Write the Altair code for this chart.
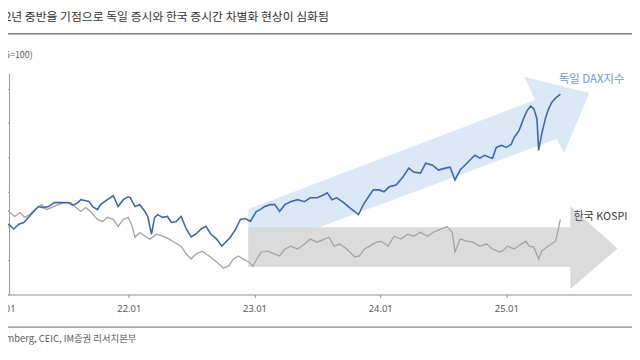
import altair as alt
import pandas as pd

TITLE = "2022년 중반을 기점으로 독일 증시와 한국 증시간 차별화 현상이 심화됨"
UNIT = "(2021.01.05=100)"
SOURCE = "자료: Bloomberg, CEIC, IM증권 리서치본부"
DAX_LABEL = "독일 DAX지수"
KOSPI_LABEL = "한국 KOSPI"

dax_dates = [
    "2021-01-05", "2021-01-18", "2021-02-01", "2021-02-16", "2021-03-02", "2021-03-16",
    "2021-03-31", "2021-04-14", "2021-04-28", "2021-05-13", "2021-05-30", "2021-06-19",
    "2021-07-09", "2021-07-23", "2021-08-06", "2021-08-15", "2021-08-29", "2021-09-07",
    "2021-09-18", "2021-10-02", "2021-10-11", "2021-10-31", "2021-11-17", "2021-12-01",
    "2021-12-16", "2021-12-30", "2022-01-05", "2022-01-19", "2022-02-02", "2022-02-17",
    "2022-02-25", "2022-03-08", "2022-03-17", "2022-03-26", "2022-04-09", "2022-04-23",
    "2022-05-05", "2022-05-19", "2022-06-02", "2022-06-17", "2022-07-01", "2022-07-15",
    "2022-07-30", "2022-08-13", "2022-08-27", "2022-09-13", "2022-09-28", "2022-10-09",
    "2022-10-23", "2022-11-07", "2022-11-21", "2022-12-05", "2022-12-20", "2023-01-06",
    "2023-01-17", "2023-01-31", "2023-02-15", "2023-03-01", "2023-03-15", "2023-03-30",
    "2023-04-16", "2023-05-06", "2023-05-26", "2023-06-12", "2023-07-02", "2023-07-22",
    "2023-07-31", "2023-08-14", "2023-08-28", "2023-09-17", "2023-10-04", "2023-10-19",
    "2023-10-30", "2023-11-13", "2023-11-28", "2023-12-12", "2023-12-29", "2024-01-12",
    "2024-01-27", "2024-02-16", "2024-03-07", "2024-03-24", "2024-04-07", "2024-04-27",
    "2024-05-12", "2024-06-01", "2024-06-18", "2024-07-08", "2024-07-22", "2024-08-05",
    "2024-08-20", "2024-09-03", "2024-09-17", "2024-10-02", "2024-10-16", "2024-10-30",
    "2024-11-13", "2024-11-22", "2024-12-03", "2024-12-18", "2025-01-01", "2025-01-15",
    "2025-01-24", "2025-02-07", "2025-02-21", "2025-03-02", "2025-03-13", "2025-03-22",
    "2025-03-31", "2025-04-05", "2025-04-14", "2025-04-25", "2025-05-04", "2025-05-12",
    "2025-05-24", "2025-06-01", "2025-06-07",
]
dax_values = [
    100.0, 100.9, 98.2, 101.0, 102.0, 105.0,
    108.4, 111.3, 110.7, 111.3, 113.6, 113.6,
    113.6, 112.0, 113.6, 115.3, 114.7, 114.3,
    111.3, 109.5, 112.4, 115.3, 117.6, 111.3,
    115.3, 117.0, 116.5, 111.3, 112.4, 108.4,
    105.5, 95.2, 105.0, 106.6, 105.0, 105.5,
    102.0, 102.6, 105.5, 98.2, 93.6, 95.3,
    98.2, 99.8, 95.3, 92.3, 88.2, 90.5,
    93.4, 98.0, 103.8, 104.3, 102.6, 108.4,
    109.5, 111.3, 112.4, 112.4, 108.4, 112.4,
    114.1, 115.3, 114.1, 116.4, 116.4, 118.2,
    119.3, 115.3, 116.4, 113.6, 110.7, 108.4,
    106.6, 112.4, 117.0, 121.0, 121.0, 119.9,
    122.8, 123.9, 128.5, 133.7, 131.4, 130.8,
    136.6, 135.4, 132.6, 133.7, 134.3, 126.8,
    132.6, 135.4, 138.3, 141.2, 139.5, 141.2,
    140.0, 139.5, 145.8, 147.0, 145.8, 147.5,
    151.6, 155.6, 163.0, 167.1, 170.0, 168.3,
    162.5, 144.0, 153.8, 163.0, 168.3, 171.7,
    174.6, 175.8, 176.9,
]

kospi_dates = [
    "2021-01-05", "2021-01-12", "2021-01-21", "2021-02-04", "2021-02-19", "2021-03-05",
    "2021-03-19", "2021-04-02", "2021-04-23", "2021-05-07", "2021-05-21", "2021-06-10",
    "2021-06-27", "2021-07-17", "2021-08-01", "2021-08-15", "2021-08-29", "2021-09-12",
    "2021-10-02", "2021-10-17", "2021-10-31", "2021-11-17", "2021-12-01", "2021-12-16",
    "2021-12-30", "2022-01-11", "2022-01-19", "2022-02-02", "2022-02-17", "2022-03-03",
    "2022-03-23", "2022-04-09", "2022-04-29", "2022-05-13", "2022-06-02", "2022-06-17",
    "2022-07-01", "2022-07-15", "2022-08-02", "2022-08-22", "2022-09-13", "2022-10-03",
    "2022-10-18", "2022-11-01", "2022-11-15", "2022-11-30", "2022-12-15", "2022-12-27",
    "2023-01-06", "2023-01-20", "2023-02-09", "2023-03-01", "2023-03-15", "2023-03-30",
    "2023-04-16", "2023-05-06", "2023-05-26", "2023-06-12", "2023-07-02", "2023-07-22",
    "2023-08-05", "2023-08-20", "2023-09-06", "2023-09-26", "2023-10-19", "2023-11-02",
    "2023-11-16", "2023-12-01", "2023-12-21", "2024-01-04", "2024-01-24", "2024-02-10",
    "2024-03-01", "2024-03-21", "2024-04-07", "2024-04-27", "2024-05-17", "2024-06-03",
    "2024-06-23", "2024-07-13", "2024-07-28", "2024-08-05", "2024-08-20", "2024-09-09",
    "2024-09-26", "2024-10-16", "2024-11-05", "2024-11-22", "2024-12-12", "2024-12-20",
    "2025-01-05", "2025-01-24", "2025-02-13", "2025-02-27", "2025-03-08", "2025-03-22",
    "2025-04-05", "2025-04-14", "2025-04-28", "2025-05-12", "2025-05-24", "2025-06-01",
    "2025-06-07",
]
kospi_values = [
    104.0, 109.5, 107.8, 105.5, 107.8, 105.0,
    106.6, 109.5, 112.4, 109.5, 110.7, 112.4,
    113.6, 113.6, 110.7, 108.4, 110.7, 108.4,
    103.8, 102.6, 105.0, 103.8, 99.7, 103.8,
    105.0, 99.7, 93.4, 96.3, 94.0, 92.3,
    95.2, 94.0, 92.3, 90.5, 88.2, 83.6,
    80.7, 83.6, 85.3, 82.5, 79.0, 75.5,
    76.7, 80.7, 82.5, 80.5, 79.0, 76.5,
    80.0, 84.8, 85.3, 83.6, 82.5, 86.5,
    88.2, 86.5, 89.4, 92.3, 90.5, 92.3,
    93.4, 88.2, 89.4, 86.5, 81.9, 82.5,
    86.5, 88.2, 90.5, 91.0, 88.2, 94.0,
    92.3, 95.2, 94.0, 96.3, 94.0, 96.3,
    98.0, 99.7, 96.3, 84.8, 92.3, 91.1,
    90.5, 88.2, 89.4, 86.5, 84.8, 85.3,
    88.2, 86.5, 89.4, 91.1, 88.2, 87.6,
    80.7, 85.3, 87.6, 89.4, 91.1, 98.0,
    103.8,
]

# annotation arrows (outline vertices, in data units)
rise_arrow_dates = ["2022-12-14", "2025-03-26", "2025-02-22", "2025-08-30",
                    "2025-06-18", "2025-05-27", "2022-12-14"]
rise_arrow_values = [109.8, 173.5, 187.0, 177.5, 142.5, 150.7, 83.9]
flat_arrow_dates = ["2022-12-14", "2025-07-06", "2025-07-06", "2025-11-20",
                    "2025-07-06", "2025-07-06", "2022-12-14"]
flat_arrow_values = [99.2, 99.2, 111.5, 86.8, 63.2, 76.1, 76.1]

tick_years = [2021, 2022, 2023, 2024, 2025, 2026]
y_ticks = [60, 80, 100, 120, 140, 160, 180]

FONT = "Noto Sans CJK KR"

dax_df = pd.DataFrame({"date": dax_dates, "v": dax_values})
kospi_df = pd.DataFrame({"date": kospi_dates, "v": kospi_values})
rise_df = pd.DataFrame({"date": rise_arrow_dates, "v": rise_arrow_values,
                        "i": list(range(len(rise_arrow_dates)))})
flat_df = pd.DataFrame({"date": flat_arrow_dates, "v": flat_arrow_values,
                        "i": list(range(len(flat_arrow_dates)))})

x_scale = alt.Scale(
    type="utc",
    domain=[alt.DateTime(year=2021, month=1, date=1, utc=True),
            alt.DateTime(year=2026, month=1, date=1, utc=True)],
)
x_axis = alt.Axis(
    title=None,
    values=[alt.DateTime(year=y, month=1, date=1, utc=True) for y in tick_years],
    labelExpr="utcyear(datum.value) == 2026 ? '' : utcFormat(datum.value, '%y.%m')",
    labelFlush=False,
    labelOverlap=False,
    grid=False,
    domainColor="#8c8c8c",
    tickColor="#8c8c8c",
    tickSize=3,
    labelPadding=6,
    labelFont="Noto Sans",
    labelFontSize=9.5,
    labelColor="#595959",
)
y_scale = alt.Scale(domain=[60, 189], nice=False, zero=False)
y_axis = alt.Axis(
    title=None,
    values=y_ticks,
    labels=False,
    grid=False,
    offset=-6,
    domainColor="#9a9a9a",
    tickColor="#9a9a9a",
    tickSize=3,
)


def xenc():
    return alt.X("date:T", scale=x_scale, axis=x_axis)


def yenc():
    return alt.Y("v:Q", scale=y_scale, axis=y_axis)


rise_arrow = alt.Chart(rise_df).mark_line(
    fill="#dbe8f6", strokeWidth=0, interpolate="linear"
).encode(x=xenc(), y=yenc(), order="i:Q")

flat_arrow = alt.Chart(flat_df).mark_line(
    fill="#d9d9d9", strokeWidth=0, interpolate="linear", fillOpacity=0.95
).encode(x=xenc(), y=yenc(), order="i:Q")

kospi_line = alt.Chart(kospi_df).mark_line(
    color="#a3a3a3", strokeWidth=1.3
).encode(x=xenc(), y=yenc())

dax_line = alt.Chart(dax_df).mark_line(
    color="#3f66b3", strokeWidth=1.6
).encode(x=xenc(), y=yenc())

one = pd.DataFrame({"a": [0]})


def label(text, x, y, size, color, align="left"):
    return alt.Chart(pd.DataFrame({"t": [text]})).mark_text(
        align=align, baseline="middle", font=FONT, fontSize=size, color=color
    ).encode(text="t:N", x=alt.value(x), y=alt.value(y))


title = label(TITLE, 330, -56.5, 12, "#333333", align="right")
unit = label(UNIT, 30, -19, 9, "#595959", align="right")
source = label(SOURCE, 135, 269, 9.5, "#595959", align="right")
dax_lab = label(DAX_LABEL, 563, 7, 11.5, "#6a9ad6")
kospi_lab = label(KOSPI_LABEL, 578, 146, 11, "#404040")

top_rule = alt.Chart(one).mark_rule(color="#7f7f7f", strokeWidth=1.5).encode(
    x=alt.value(-3), x2=alt.value(637), y=alt.value(-40)
)
bottom_rule = alt.Chart(one).mark_rule(color="#8c8c8c", strokeWidth=1.2).encode(
    x=alt.value(-3), x2=alt.value(637), y=alt.value(257)
)

chart = alt.layer(
    rise_arrow, flat_arrow, kospi_line, dax_line,
    title, unit, source, dax_lab, kospi_lab, top_rule, bottom_rule,
).properties(
    width=637,
    height=224,
    autosize=alt.AutoSizeParams(type="none"),
    padding={"left": -5, "top": 64, "right": 0, "bottom": 50},
    background="white",
).configure_view(stroke=None)

chart.save("out.html", embed_options={"renderer": "svg", "actions": False})
